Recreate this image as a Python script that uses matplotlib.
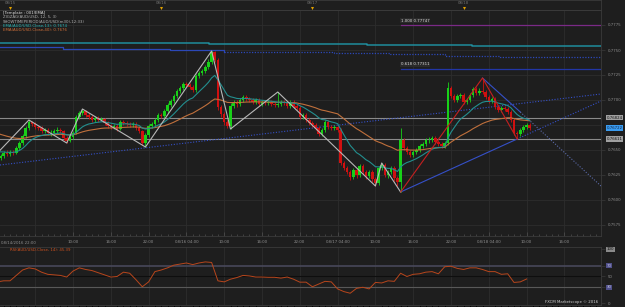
import numpy as np
import pandas as pd
import matplotlib
matplotlib.use('Agg')
import matplotlib.pyplot as plt

W, H = 625, 307

# AUD/USD m30 candles, first bar at 08/14 22:00 (hours counted from 08/15 00:00)
t_first = -2.0
open_first = 0.7645
close = [
    .7642, .7644, .7647, .7646, .7648, .7647, .7652, .7657, .7664, .7672,
    .7678, .7676, .7673, .7672, .7669, .7670, .7667, .7667, .7669, .7670,
    .7669, .7662, .7659, .7663, .7667, .7683, .7687, .7689, .7685, .7683,
    .7680, .7682, .7680, .7681, .7677, .7674, .7673, .7674, .7671, .7678,
    .7677, .7676, .7675, .7676, .7672, .7669, .7657, .7665, .7674, .7676,
    .7680, .7685, .7684, .7689, .7695, .7699, .7704, .7709, .7712, .7716,
    .7715, .7713, .7710, .7724, .7727, .7729, .7733, .7738, .7748, .7740,
    .7693, .7686, .7678, .7674, .7694, .7698, .7696, .7700, .7703, .7701,
    .7700, .7698, .7700, .7696, .7698, .7697, .7698, .7696, .7695, .7696,
    .7698, .7697, .7694, .7698, .7694, .7692, .7683, .7685, .7680, .7677,
    .7675, .7672, .7666, .7670, .7678, .7673, .7672, .7673, .7670, .7637,
    .7632, .7628, .7623, .7630, .7625, .7634, .7628, .7624, .7628, .7621,
    .7617, .7632, .7635, .7625, .7628, .7632, .7622, .7618, .7660, .7652,
    .7648, .7645, .7648, .7650, .7654, .7656, .7660, .7660, .7662, .7658,
    .7656, .7654, .7657, .7712, .7704, .7700, .7704, .7705, .7698, .7700,
    .7705, .7711, .7707, .7709, .7708, .7703, .7699, .7701, .7693, .7690,
    .7692, .7691, .7688, .7680, .7667, .7666, .7670, .7673, .7675, .76722,
]
high = [
    .7648, .7646, .7649, .7650, .7650, .7650, .7654, .7659, .7666, .7674,
    .7680, .7679, .7678, .7675, .7674, .7672, .7672, .7670, .7671, .7673,
    .7672, .7670, .7664, .7665, .7669, .7685, .7689, .7691, .7690, .7687,
    .7685, .7684, .7684, .7683, .7682, .7679, .7676, .7676, .7676, .7680,
    .7680, .7679, .7678, .7678, .7678, .7674, .7670, .7667, .7676, .7678,
    .7682, .7687, .7687, .7691, .7697, .7701, .7706, .7711, .7714, .7718,
    .7718, .7717, .7715, .7726, .7729, .7731, .7735, .7741, .7749, .7749,
    .7742, .7695, .7688, .7680, .7697, .7700, .7700, .7702, .7705, .7705,
    .7703, .7702, .7702, .7702, .7700, .7700, .7700, .7700, .7698, .7708,
    .7700, .7700, .7699, .7700, .7700, .7696, .7694, .7687, .7687, .7682,
    .7679, .7677, .7674, .7672, .7680, .7680, .7675, .7675, .7675, .7672,
    .7639, .7634, .7630, .7632, .7632, .7636, .7636, .7630, .7630, .7630,
    .7623, .7634, .7637, .7637, .7630, .7634, .7634, .7624, .7672, .7662,
    .7654, .7650, .7650, .7652, .7656, .7658, .7662, .7663, .7664, .7664,
    .7660, .7658, .7659, .7718, .7714, .7706, .7706, .7707, .7707, .7702,
    .7707, .7713, .7713, .7712, .7722, .7710, .7705, .7703, .7703, .7695,
    .7694, .7694, .7693, .7690, .7682, .7669, .7672, .7675, .7677, .7677,
]
low = [
    .7640, .7640, .7642, .7644, .7644, .7645, .7646, .7650, .7655, .7662,
    .7670, .7674, .7671, .7670, .7667, .7667, .7665, .7664, .7665, .7667,
    .7667, .7660, .7657, .7658, .7661, .7666, .7681, .7685, .7683, .7681,
    .7678, .7678, .7678, .7679, .7675, .7672, .7671, .7671, .7669, .7670,
    .7675, .7674, .7673, .7673, .7670, .7667, .7655, .7653, .7663, .7672,
    .7674, .7678, .7682, .7682, .7687, .7693, .7697, .7702, .7707, .7710,
    .7713, .7711, .7708, .7708, .7722, .7725, .7727, .7731, .7736, .7738,
    .7690, .7683, .7675, .7672, .7671, .7692, .7693, .7694, .7698, .7699,
    .7698, .7696, .7696, .7694, .7694, .7695, .7695, .7694, .7693, .7693,
    .7694, .7695, .7692, .7692, .7692, .7690, .7681, .7681, .7678, .7675,
    .7673, .7670, .7664, .7664, .7668, .7671, .7670, .7670, .7668, .7635,
    .7630, .7626, .7620, .7621, .7622, .7623, .7626, .7621, .7622, .7618,
    .7614, .7615, .7630, .7623, .7622, .7626, .7619, .7614, .7608, .7650,
    .7646, .7643, .7643, .7646, .7648, .7652, .7654, .7657, .7658, .7656,
    .7654, .7652, .7652, .7655, .7702, .7698, .7698, .7702, .7696, .7696,
    .7698, .7703, .7705, .7705, .7706, .7701, .7697, .7697, .7691, .7688,
    .7688, .7689, .7686, .7678, .7665, .7661, .7664, .7668, .7671, .7670,
]

# EMA start values carried in from earlier history
ema13_seed = 0.7650
ema40_seed = 0.7668

# RSI(14), read hourly from 08/14 22:00
rsi = [40, 42, 42, 52, 62, 66, 64, 58, 54, 53, 52, 49, 60, 66, 63, 61, 57, 53, 49, 50,
       58, 56, 44, 31, 40, 59, 62, 66, 71, 73, 75, 72, 75, 77, 76, 42, 40, 45, 48, 52,
       51, 49, 49, 48.5, 48.5, 47, 49, 45, 39.5, 39.5, 31, 36, 41, 40, 27, 22, 19, 28, 30, 27,
       39, 38, 42, 41, 56, 50, 54, 55, 58, 59, 55, 68, 69, 65, 63, 66, 66, 63, 59, 59,
       54, 55, 39, 40, 45.39]

# zigzag swing points (hour, price)
zz_t = [-2.0, 3.0, 9.0, 11.5, 21.5, 32.0, 35.0, 42.5, 58.0, 59.0, 62.0]
zz_p = [.7647, .7680, .7657, .7691, .7653, .7749, .7671, .7708, .7614, .7637, .7608]
zz2_t = [62.0, 75.0, 80.5]
zz2_p = [.7608, .7722, .7661]

# horizontal levels and fibonacci levels
levels = [0.76824, 0.76611]
fib_levels = [0.77747, 0.77311]
fib_names = ['1.000', '0.618']
fib_start = 62.0

# higher timeframe step lines (hour where step starts, price)
teal_t = [-2, 6.6, 23.3, 31.6, 48.3, 56.6, 73.3, 81.6, 94]
teal_p = [.77573, .77567, .77567, .77557, .77563, .77550, .77543, .77537, .77537]
blue_t = [-2, 8.4, 25.4, 34.0, 42.7, 51.4, 60.3, 69.0, 77.8, 86.7, 94]
blue_p = [.77533, .77510, .77500, .77483, .77477, .77467, .77457, .77443, .77433, .77427, .77427]

x0 = -10 / 6.3
x1 = 591 / 6.3

bg = '#1e1e1e'
grid_c = '#2d2d2d'
txt_c = '#8f8f8f'

fig = plt.figure(figsize=(W / 100, H / 100), dpi=100, facecolor=bg)


def box(px_left, px_top, px_right, px_bottom):
    return [px_left / W, 1 - px_bottom / H, (px_right - px_left) / W, (px_bottom - px_top) / H]


ax = fig.add_axes(box(0, 10, 601, 236))
ax_r = fig.add_axes(box(0, 247, 601, 305), sharex=ax)
ax_top = fig.add_axes(box(0, 0, 601, 10), sharex=ax)

for a in (ax, ax_r, ax_top):
    a.set_facecolor(bg)
    for s in a.spines.values():
        s.set_color('#3a3a3a')
        s.set_linewidth(0.6)
    a.spines['left'].set_visible(False)

t = t_first + 0.5 * np.arange(len(close))
opens = [open_first] + close[:-1]
o = np.array(opens)
c = np.array(close)
up = c >= o
cols = np.where(up, '#18d018', '#d01010')

# grid
vgrid = np.arange(4, 94, 6)
for a in (ax, ax_r):
    for g in vgrid:
        a.axvline(g, color=grid_c, lw=0.6, zorder=0)
for p in np.arange(0.7575, 0.7790, 0.0025):
    ax.axhline(p, color=grid_c, lw=0.6, zorder=0)

# step lines at top
ax.step(teal_t, teal_p, where='post', color='#1f8c9c', lw=1.1, zorder=2)
ax.step(blue_t[:4], blue_p[:4], where='post', color='#2c48b8', lw=0.9, zorder=2)
ax.step(blue_t[3:], blue_p[3:], where='post', color='#2c48b8', lw=0.9,
        ls=(0, (1, 1.2)), zorder=2)

# fibonacci
fib_cols = ['#7b2a86', '#2236a6']
for lv, nm, fc in zip(fib_levels, fib_names, fib_cols):
    ax.plot([fib_start, x1], [lv, lv], color=fc, lw=0.9, zorder=2)
    ax.text(fib_start, lv + 0.00025, '%s %.5f' % (nm, lv), color='#dddddd', fontsize=2.8,
            va='bottom', ha='left', zorder=6,
            bbox=dict(boxstyle='square,pad=0.15', fc='#2a2a2a', ec='none'))

# horizontal levels
for lv in levels:
    ax.axhline(lv, color='#8a8a8a', lw=0.8, zorder=3)

# trend lines
ax.plot([x0, x1], [0.7635, 0.7706], color='#3550c8', lw=0.8, ls=(0, (1, 1.5)), zorder=3)
ax.plot([62.0, 80.5], [0.7608, 0.7661], color='#3550c8', lw=0.8, zorder=3)
ax.plot([80.5, x1], [0.7661, 0.7699], color='#3550c8', lw=0.8, ls=(0, (1, 1.5)), zorder=3)
ax.plot([75.0, 81.0], [0.7722, 0.7688], color='#3550c8', lw=0.8, zorder=3)
ax.plot([81.0, x1], [0.7688, 0.7614], color='#5a6aa8', lw=0.8, ls=(0, (1, 1.5)), zorder=3)

# candles
ax.vlines(t, low, high, color=cols, lw=0.6, zorder=4)
body = np.maximum(np.abs(c - o), 0.00004)
ax.bar(t, body, bottom=np.minimum(o, c), width=0.4, color=cols, lw=0, zorder=5)

# EMAs
ema13 = pd.Series([ema13_seed] + close).ewm(span=13, adjust=False).mean().values[1:]
ema40 = pd.Series([ema40_seed] + close).ewm(span=40, adjust=False).mean().values[1:]
ax.plot(t, ema40, color='#c0703c', lw=0.8, zorder=6)
ax.plot(t, ema13, color='#238f8f', lw=0.8, zorder=6)

# zigzag
ax.plot(zz_t, zz_p, color='#b8b8b8', lw=0.8, zorder=7)
ax.plot(zz2_t, zz2_p, color='#c42020', lw=0.8, zorder=7)

ax.set_xlim(x0, x1)
ax.set_ylim(0.7564, 0.7790)

# right price axis
ax.yaxis.tick_right()
ticks = [0.7775, 0.7750, 0.7725, 0.7700, 0.7650, 0.7625, 0.7600, 0.7575]
ax.set_yticks(ticks)
ax.set_yticklabels(['%.4f' % v for v in ticks])
ax.tick_params(axis='y', colors='#3a3a3a', labelcolor=txt_c, labelsize=2.8, length=3,
               width=0.5, pad=2)
label_boxes = [(0.76824, '#a0a0a0', '#111111'), (0.76722, '#3a9cf0', '#102040'),
               (0.76611, '#a0a0a0', '#111111')]
for lv, fc, tc in label_boxes:
    ax.text(1.009, lv, '%.5f' % lv, transform=ax.get_yaxis_transform(), fontsize=2.8,
            color=tc, va='center', ha='left',
            bbox=dict(boxstyle='square,pad=0.2', fc=fc, ec='none'))

# time axis
lab_t = [10, 16, 22, 28, 34, 40, 46, 52, 58, 64, 70, 76, 82, 88]
lab_s = ['10:00', '16:00', '22:00', '08/16 04:00', '10:00', '16:00', '22:00',
         '08/17 04:00', '10:00', '16:00', '22:00', '08/18 04:00', '10:00', '16:00']
ax.set_xticks(lab_t)
ax.set_xticklabels(lab_s)
ax.set_xticks(np.arange(-1, 94, 1), minor=True)
ax.tick_params(axis='x', which='both', direction='in', colors='#505050', labelcolor=txt_c,
               labelsize=2.8, pad=3, width=0.5)
ax.tick_params(axis='x', which='major', length=3)
ax.tick_params(axis='x', which='minor', length=1.5)
ax.text(0.002, -0.02, '08/14/2016 22:00', transform=ax.transAxes, fontsize=2.8,
        color=txt_c, va='top', ha='left')

# legend block
leg = [('[Template : 001/EMA]', '#e0e0e0'),
       ('ZIGZAG(AUD/USD, 12, 5, 3)', '#b0b0b0'),
       ('SHOWTIMEPERIOD(AUD/USD(m30),12:33)', '#b0b0b0'),
       ('EMA(AUD/USD.Close,13): 0.7674', '#2bb5b5'),
       ('EMA(AUD/USD.Close,40): 0.7676', '#d0703a')]
for k, (s, col) in enumerate(leg):
    fig.text(3 / W, 1 - (13 + 4.3 * k) / H, s, fontsize=2.8, color=col, va='center', ha='left')

# RSI panel
rsi_t = t_first + np.arange(len(rsi))
ax_r.axhline(70, color='#48485a', lw=1.2, zorder=1)
ax_r.axhline(50, color='#0e0e0e', lw=0.8, zorder=1)
ax_r.axhline(30, color='#585858', lw=0.8, zorder=1)
ax_r.plot(rsi_t, rsi, color='#b8461c', lw=0.7, zorder=3)
ax_r.set_ylim(-2.8, 104.6)
ax_r.yaxis.tick_right()
ax_r.set_yticks([100, 70, 50, 30, 0])
ax_r.set_yticklabels(['', '', '50', '', '0'])
ax_r.tick_params(axis='y', colors='#3a3a3a', labelcolor=txt_c, labelsize=2.8, length=3,
                 width=0.5, pad=2)
ax_r.tick_params(axis='x', bottom=False, labelbottom=False)
for lv, fc, tc in [(100, '#8a8a8a', '#111111'), (70, '#50508a', '#c0c0e0'), (30, '#50508a', '#c0c0e0')]:
    ax_r.text(1.009, lv, str(lv), transform=ax_r.get_yaxis_transform(), fontsize=2.8,
              color=tc, va='center', ha='left',
              bbox=dict(boxstyle='square,pad=0.2', fc=fc, ec='none'))
ax_r.text(0.016, 0.98, 'RSI(AUD/USD.Close, 14): 45.39', transform=ax_r.transAxes,
          fontsize=2.8, color='#d0521e', va='top', ha='left')
ax_r.text(0.995, 0.01, 'FXCM Marketscope \u00a9 2016', transform=ax_r.transAxes,
          fontsize=2.8, color='#d0d0d0', va='bottom', ha='right')

# top date strip
ax_top.set_ylim(0, 1)
ax_top.tick_params(axis='both', which='both', left=False, right=False, bottom=False,
                   labelleft=False, labelbottom=False, top=False)
day_t = [0, 24, 48, 72]
day_s = ['08/15', '08/16', '08/17', '08/18']
for dt, ds in zip(day_t, day_s):
    ax_top.text(dt, 0.72, ds, fontsize=2.8, color='#707070', ha='center', va='center')
    ax_top.plot([dt], [0.25], marker='v', ms=2.2, color='#e0a000', mec='none')
plt.setp(ax.get_xticklabels(minor=True), visible=False)

fig.savefig('out.png', dpi=100, facecolor=bg)
